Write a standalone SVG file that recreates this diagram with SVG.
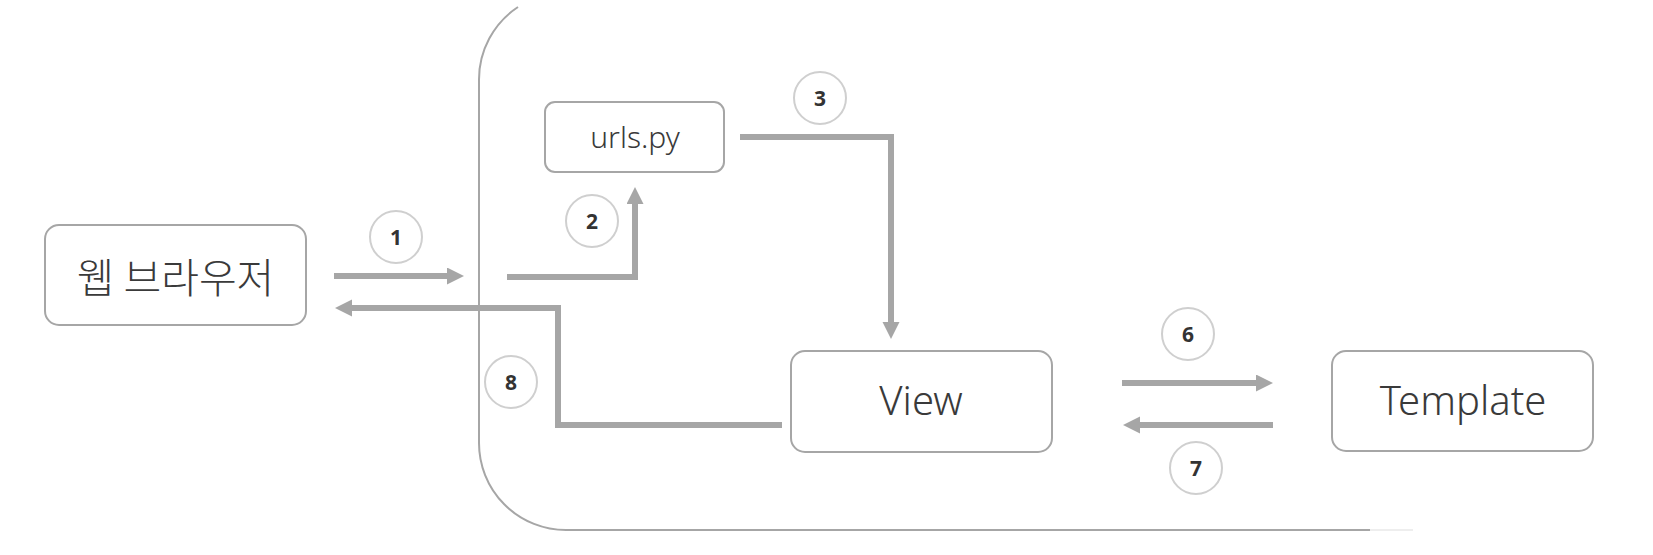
<svg xmlns="http://www.w3.org/2000/svg" width="1653" height="555" viewBox="0 0 1653 555">
<style>
.box{fill:#fff;stroke:#a6a6a6;stroke-width:2}
.lbl{font-family:"Noto Sans","Liberation Sans",sans-serif;font-weight:300;fill:#3a3a3a;text-anchor:middle}
.kr{font-family:"Noto Sans CJK KR","Noto Sans",sans-serif;font-weight:300;fill:#3a3a3a;text-anchor:middle}
.num circle{fill:#fff;stroke:#cfcfcf;stroke-width:2}
.num text{font-family:"Noto Sans","Liberation Sans",sans-serif;font-weight:bold;font-size:21px;fill:#333;text-anchor:middle}
.conn{fill:none;stroke:#a6a6a6;stroke-width:6;stroke-linejoin:miter;marker-end:url(#ah)}
</style>
<defs>
<marker id="ah" markerUnits="userSpaceOnUse" markerWidth="18" markerHeight="18" refX="7" refY="8.5" orient="auto" viewBox="0 0 18 18">
<path d="M0,0 L17,8.5 L0,17 z" fill="#a6a6a6"/>
</marker>
</defs>
<g id="container">
<path d="M518,7 A87,87 0 0 0 479,80 V443 A87,87 0 0 0 566,530 H1370" fill="none" stroke="#a6a6a6" stroke-width="2"/>
<path d="M1370,530 H1413" fill="none" stroke="#dddddd" stroke-width="1"/>
</g>
<g id="connectors">
<path class="conn" d="M334,276 H454"/>
<path class="conn" d="M507,277 H635 V197"/>
<path class="conn" d="M740,137 H891 V329"/>
<path class="conn" d="M1122,383 H1263"/>
<path class="conn" d="M1273,425 H1133"/>
<path class="conn" d="M782,425 H558 V308 H345"/>
</g>
<g id="browser">
<rect class="box" x="45" y="225" width="261" height="100" rx="14"/>
<text class="kr" x="175.5" y="275" font-size="41" dominant-baseline="central">웹 브라우저</text>
</g>
<g id="urls">
<rect class="box" x="545" y="102" width="179" height="70" rx="10"/>
<text class="lbl" x="635" y="148" font-size="30">urls.py</text>
</g>
<g id="view">
<rect class="box" x="791" y="351" width="261" height="101" rx="14"/>
<text class="lbl" x="921" y="415" font-size="40">View</text>
</g>
<g id="template">
<rect class="box" x="1332" y="351" width="261" height="100" rx="14"/>
<text class="lbl" x="1463" y="415" font-size="40">Template</text>
</g>
<g id="labels">
<g class="num" id="n1"><circle cx="396" cy="237" r="26"/><text x="396" y="244.5">1</text></g>
<g class="num" id="n2"><circle cx="592" cy="221" r="26"/><text x="592" y="228.5">2</text></g>
<g class="num" id="n3"><circle cx="820" cy="98" r="26"/><text x="820" y="105.5">3</text></g>
<g class="num" id="n6"><circle cx="1188" cy="334" r="26"/><text x="1188" y="341.5">6</text></g>
<g class="num" id="n7"><circle cx="1196" cy="468" r="26"/><text x="1196" y="475.5">7</text></g>
<g class="num" id="n8"><circle cx="511" cy="382" r="26"/><text x="511" y="389.5">8</text></g>
</g>
</svg>
